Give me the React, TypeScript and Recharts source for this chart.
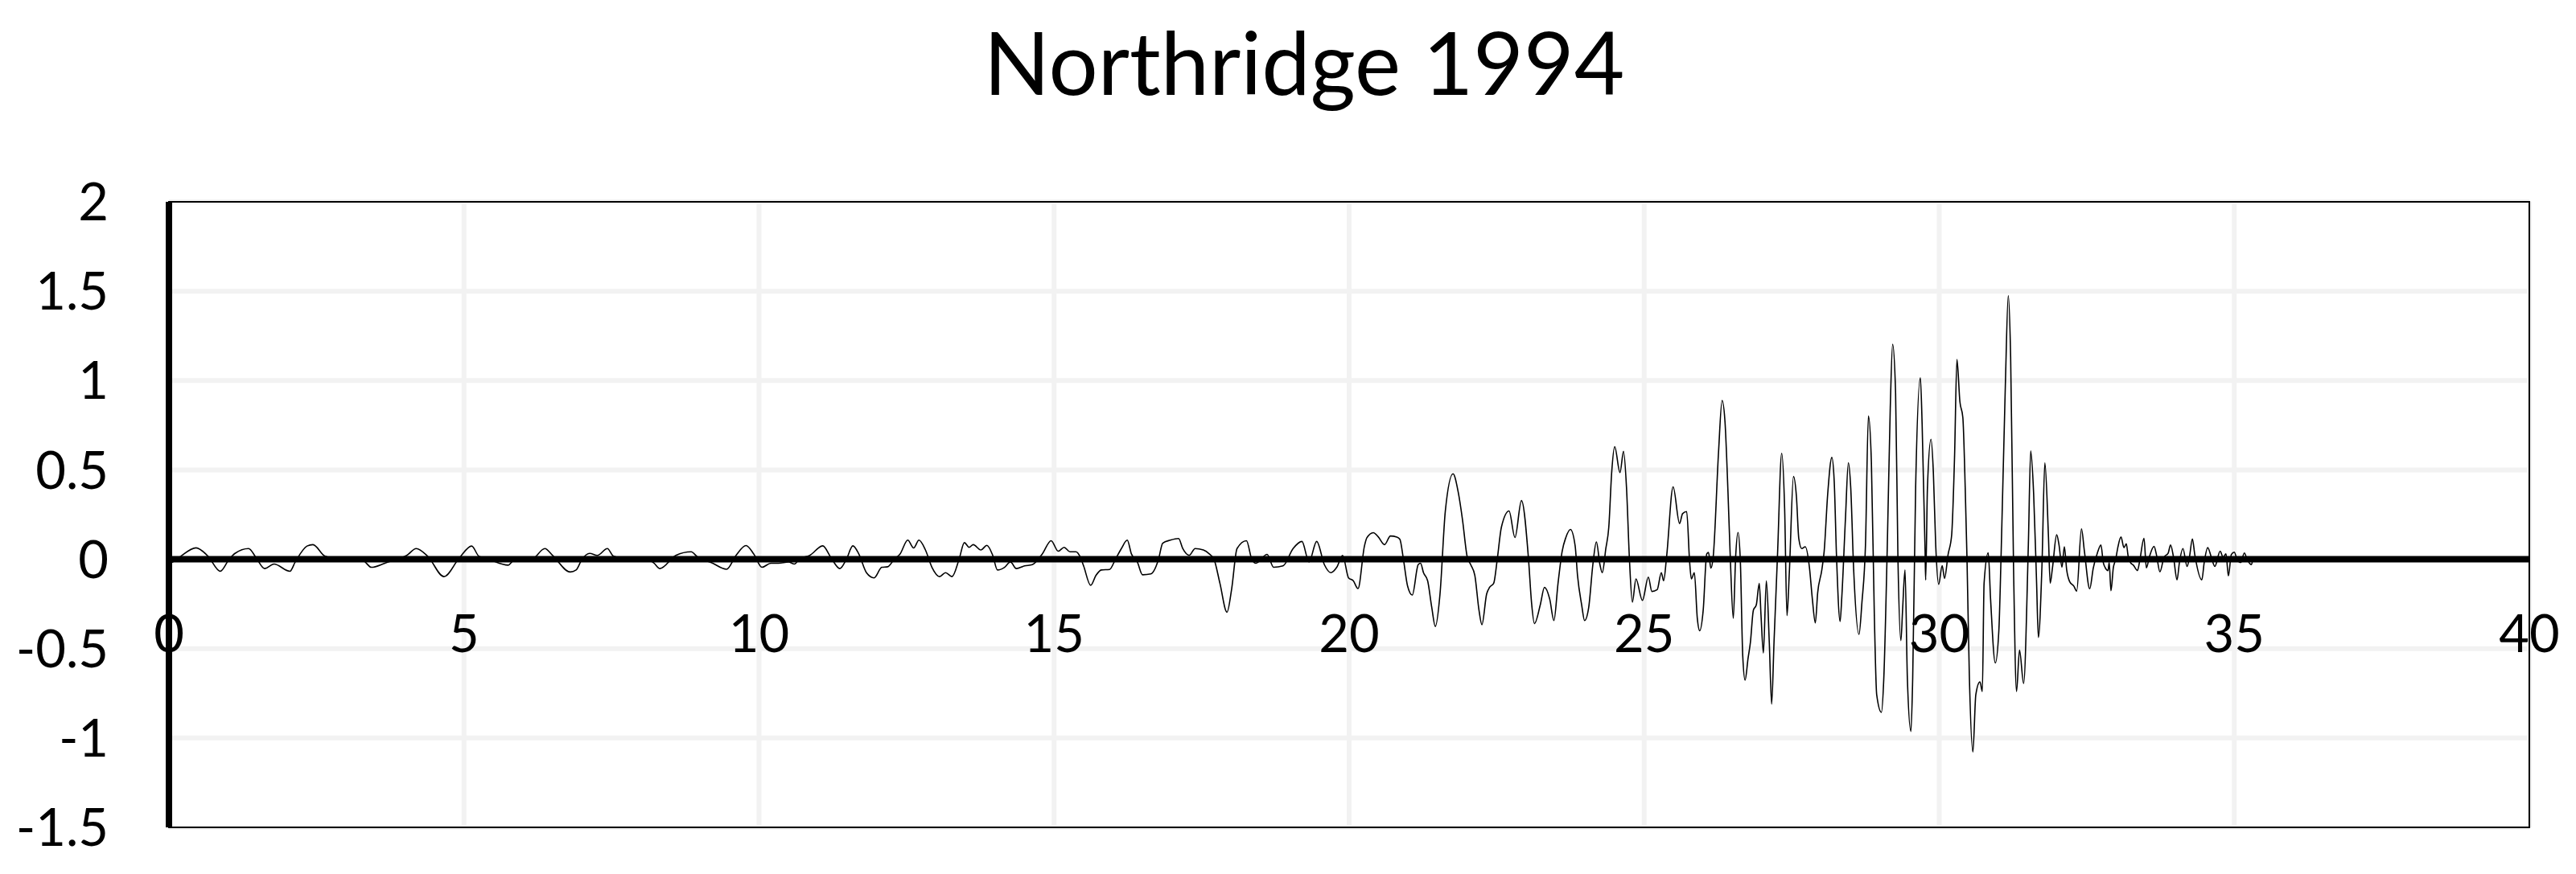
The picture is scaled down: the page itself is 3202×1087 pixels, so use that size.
import React from 'react';
import { LineChart, Line, XAxis, YAxis, CartesianGrid, ReferenceLine, ReferenceArea } from 'recharts';

const TITLE = 'Northridge 1994';
const X_TICKS = [0, 5, 10, 15, 20, 25, 30, 35, 40];
const Y_TICKS = [-1.5, -1, -0.5, 0, 0.5, 1, 1.5, 2];

// [time (s), acceleration]
const SEG_0_10: [number, number][] = [
  [0.0, 0], [0.03, -0.02], [0.15, 0.005], [0.46, 0.064], [0.66, 0.018], [0.87, -0.067], [1.02, 0],
  [1.12, 0.033], [1.35, 0.06], [1.48, 0.007], [1.62, -0.052], [1.78, -0.027], [2.05, -0.067],
  [2.14, -0.015], [2.34, 0.074], [2.44, 0.082], [2.64, 0.018], [2.8, 0.005], [3.1, 0.0], [3.3, -0.01],
  [3.43, -0.045], [3.66, -0.022], [3.85, 0.0], [4.03, 0.022], [4.19, 0.06], [4.39, 0.015],
  [4.66, -0.097], [4.92, 0.007], [5.13, 0.074], [5.25, 0.018], [5.42, 0.0], [5.75, -0.033],
  [5.84, -0.007], [6.15, 0.0], [6.37, 0.06], [6.5, 0.022], [6.8, -0.071], [6.9, -0.06], [7.0, 0.0],
  [7.13, 0.033], [7.26, 0.022], [7.43, 0.06], [7.53, 0.018], [7.8, 0.0], [8.1, 0.0], [8.22, -0.022],
  [8.32, -0.052], [8.59, 0.022], [8.85, 0.042], [8.95, 0.015], [9.2, -0.02], [9.45, -0.056],
  [9.61, 0.022], [9.78, 0.077], [9.91, 0.03],
];

const SEG_10_20: [number, number][] = [
  [10.05, -0.045], [10.2, -0.022], [10.33, -0.022], [10.5, -0.015], [10.6, -0.027], [10.68, 0],
  [10.86, 0.022], [11.08, 0.075], [11.22, 0.008], [11.37, -0.052], [11.48, 0], [11.59, 0.075],
  [11.69, 0.03], [11.82, -0.075], [11.95, -0.104], [12.08, -0.045], [12.18, -0.042], [12.29, 0],
  [12.39, 0.03], [12.52, 0.107], [12.62, 0.063], [12.71, 0.107], [12.82, 0.052], [12.93, -0.045],
  [13.06, -0.097], [13.16, -0.075], [13.27, -0.097], [13.39, 0], [13.48, 0.093], [13.56, 0.067],
  [13.63, 0.082], [13.76, 0.052], [13.86, 0.078], [13.96, 0.022], [14.04, -0.06], [14.16, -0.045],
  [14.26, -0.015], [14.36, -0.052], [14.5, -0.037], [14.63, -0.03], [14.8, 0.03], [14.95, 0.104],
  [15.07, 0.045], [15.17, 0.067], [15.27, 0.042], [15.37, 0.042], [15.44, 0.015], [15.5, -0.037],
  [15.62, -0.146], [15.71, -0.09], [15.8, -0.06], [15.94, -0.057], [16.04, 0], [16.14, 0.06],
  [16.24, 0.107], [16.31, 0.03], [16.41, -0.015], [16.5, -0.087], [16.64, -0.082], [16.77, 0],
  [16.84, 0.09], [16.97, 0.107], [17.11, 0.116], [17.18, 0.06], [17.29, 0.022], [17.39, 0.06],
  [17.53, 0.052], [17.63, 0.03], [17.71, 0], [17.81, -0.134], [17.93, -0.296], [18.01, -0.164],
  [18.1, 0.06], [18.26, 0.104], [18.35, 0], [18.42, -0.022], [18.61, 0.027], [18.72, -0.045],
  [18.88, -0.037], [19.05, 0.06], [19.2, 0.1], [19.32, -0.015], [19.45, 0.1], [19.58, -0.03],
  [19.69, -0.075], [19.79, -0.045], [19.89, 0.022], [19.99, -0.104],
];

const SEG_20_25: [number, number][] = [
  [20.07, -0.12], [20.15, -0.164], [20.26, 0.075], [20.3, 0.12], [20.41, 0.149], [20.49, 0.127],
  [20.6, 0.082], [20.7, 0.13], [20.81, 0.124], [20.86, 0.112], [20.92, 0], [20.99, -0.149],
  [21.07, -0.2], [21.17, -0.03], [21.21, -0.022], [21.26, -0.075], [21.33, -0.12], [21.4, -0.269],
  [21.46, -0.376], [21.54, -0.194], [21.63, 0.27], [21.76, 0.478], [21.85, 0.373], [21.92, 0.224],
  [22.0, 0.015], [22.06, -0.03], [22.13, -0.09], [22.2, -0.284], [22.25, -0.366], [22.33, -0.194],
  [22.38, -0.157], [22.45, -0.134], [22.51, 0], [22.58, 0.179], [22.71, 0.27], [22.81, 0.122],
  [22.92, 0.328], [23.04, 0], [23.09, -0.239], [23.14, -0.36], [23.24, -0.254], [23.31, -0.157],
  [23.4, -0.224], [23.47, -0.343], [23.54, -0.134], [23.61, 0.045], [23.67, 0.12], [23.75, 0.167],
  [23.83, 0.075], [23.87, -0.09], [23.94, -0.254], [23.99, -0.343], [24.06, -0.269], [24.13, -0.03],
  [24.19, 0.097], [24.25, -0.03], [24.29, -0.075], [24.35, 0.06], [24.4, 0.179], [24.45, 0.49],
  [24.5, 0.63], [24.59, 0.485], [24.65, 0.604], [24.7, 0.403], [24.75, 0], [24.8, -0.24],
  [24.86, -0.11], [24.97, -0.23],
];

const SEG_25_30: [number, number][] = [
  [25.07, -0.1], [25.13, -0.18], [25.22, -0.17], [25.29, -0.075], [25.33, -0.12], [25.38, 0.015],
  [25.49, 0.405], [25.6, 0.2], [25.65, 0.255], [25.72, 0.267], [25.77, -0.015], [25.8, -0.11],
  [25.85, -0.075], [25.9, -0.33], [25.94, -0.4], [26.0, -0.285], [26.06, 0.03], [26.09, 0.038],
  [26.13, -0.05], [26.17, 0.015], [26.26, 0.6], [26.32, 0.889], [26.37, 0.766], [26.42, 0.375],
  [26.46, 0], [26.51, -0.33], [26.55, 0.015], [26.59, 0.15], [26.63, -0.015], [26.67, -0.54],
  [26.71, -0.676], [26.76, -0.555], [26.8, -0.465], [26.85, -0.285], [26.9, -0.255], [26.95, -0.135],
  [26.98, -0.315], [27.02, -0.525], [27.07, -0.12], [27.12, -0.465], [27.16, -0.81], [27.2, -0.465],
  [27.26, 0.03], [27.33, 0.593], [27.38, 0.285], [27.42, -0.315], [27.46, -0.07], [27.53, 0.463],
  [27.58, 0.35], [27.62, 0.116], [27.67, 0.06], [27.73, 0.07], [27.8, -0.045], [27.85, -0.223],
  [27.9, -0.356], [27.94, -0.187], [28.01, -0.06], [28.05, 0.045], [28.11, 0.366], [28.18, 0.57],
  [28.22, 0.437], [28.26, 0.009], [28.32, -0.348], [28.35, -0.205], [28.41, 0.223], [28.46, 0.54],
  [28.5, 0.401], [28.55, -0.06], [28.64, -0.42], [28.69, -0.241], [28.75, 0.08], [28.8, 0.802],
  [28.85, 0.544], [28.9, -0.312], [28.94, -0.757], [29.02, -0.856], [29.06, -0.67], [29.12, 0.08],
  [29.17, 0.847], [29.21, 1.203], [29.26, 0.936], [29.3, 0.009], [29.35, -0.455], [29.38, -0.276],
  [29.42, -0.06], [29.46, -0.668], [29.52, -0.963], [29.55, -0.668], [29.6, 0.401], [29.68, 1.016],
  [29.71, 0.757], [29.76, 0.045], [29.77, -0.116], [29.8, 0.401], [29.86, 0.672], [29.9, 0.49],
  [29.94, 0.08], [29.99, -0.14],
];

const SEG_30_36: [number, number][] = [
  [30.05, -0.036], [30.09, -0.107], [30.15, 0.027], [30.21, 0.134], [30.26, 0.58], [30.3, 1.118],
  [30.35, 0.882], [30.4, 0.793], [30.44, 0.401], [30.47, 0.009], [30.51, -0.65], [30.57, -1.078],
  [30.62, -0.757], [30.69, -0.686], [30.73, -0.74], [30.76, -0.134], [30.83, 0.036], [30.87, -0.223],
  [30.95, -0.58], [31.01, -0.4], [31.05, 0.045], [31.12, 0.97], [31.17, 1.474], [31.21, 1.13],
  [31.26, -0.062], [31.31, -0.74], [31.36, -0.508], [31.43, -0.695], [31.51, 0.08], [31.55, 0.606],
  [31.6, 0.365], [31.65, -0.134], [31.68, -0.437], [31.74, -0.045], [31.79, 0.54], [31.85, 0.134],
  [31.88, -0.134], [31.92, -0.045], [31.99, 0.137], [32.03, 0.08], [32.08, -0.045], [32.12, 0.07],
  [32.16, -0.06], [32.21, -0.125], [32.28, -0.15], [32.33, -0.178], [32.41, 0.17], [32.46, 0.045],
  [32.55, -0.165], [32.61, -0.05], [32.68, 0.035], [32.74, 0.08], [32.78, -0.018], [32.81, -0.045],
  [32.86, -0.063], [32.88, -0.018], [32.91, -0.176], [32.95, -0.048], [32.99, 0.0], [33.03, 0.072],
  [33.08, 0.125], [33.13, 0.065], [33.17, 0.087], [33.2, 0.02], [33.24, -0.018], [33.29, -0.033],
  [33.36, -0.063], [33.4, -0.003], [33.47, 0.117], [33.51, -0.048], [33.56, 0.012], [33.64, 0.072],
  [33.68, 0.027], [33.74, -0.07], [33.81, 0.012], [33.88, 0.035], [33.92, 0.08], [33.97, 0.012],
  [34.03, -0.115], [34.07, -0.018], [34.13, 0.06], [34.2, -0.04], [34.24, 0.012], [34.29, 0.114],
  [34.33, 0.027], [34.45, -0.115], [34.49, -0.018], [34.55, 0.065], [34.61, 0.012], [34.67, -0.04],
  [34.76, 0.045], [34.81, 0.012], [34.86, 0.03], [34.9, -0.093], [34.95, 0.027], [35.0, 0.04],
  [35.05, -0.003], [35.11, -0.018], [35.17, 0.035], [35.22, -0.003], [35.29, -0.03], [35.31, -0.006],
];

const data = [...SEG_0_10, ...SEG_10_20, ...SEG_20_25, ...SEG_25_30, ...SEG_30_36].map(([t, a]) => ({ t, a }));

const FONT = 'Lato, "Open Sans", sans-serif';
const W = 3202;
const H = 1087;

const XTick = (props: any) => {
  const { x, y, payload } = props;
  return (
    <text x={x} y={y - 218} textAnchor="middle" fontFamily={FONT} fontSize={65} fill="#000">
      {payload.value}
    </text>
  );
};

export default function App() {
  return (
    <div style={{ position: 'absolute', left: 0, top: 0, width: W, height: H, background: '#fff' }}>
      <svg width={W} height={200} style={{ position: 'absolute', left: 0, top: 0 }}>
        <text x={1621} y={118} textAnchor="middle" fontFamily={FONT} fontSize={108} fill="#000">
          {TITLE}
        </text>
      </svg>
      <div style={{ position: 'absolute', left: 0, top: 0 }}>
        <LineChart width={W} height={H} data={data} margin={{ top: 251, right: 58, bottom: 28, left: 10 }}>
          <CartesianGrid stroke="#f2f2f2" strokeWidth={6} />
          <ReferenceArea x1={0} x2={40} y1={-1.5} y2={2} fill="none" stroke="#000" strokeWidth={2} ifOverflow="visible" />
          <XAxis
            type="number"
            dataKey="t"
            domain={[0, 40]}
            ticks={X_TICKS}
            interval={0}
            axisLine={false}
            tickLine={false}
            tickSize={0}
            tickMargin={0}
            height={30}
            tick={XTick}
          />
          <YAxis
            type="number"
            domain={[-1.5, 2]}
            ticks={Y_TICKS}
            interval={0}
            width={200}
            axisLine={{ stroke: '#000', strokeWidth: 8 }}
            tickLine={false}
            tickSize={0}
            tickMargin={75}
            tick={{ fill: '#000', fontSize: 65, fontFamily: FONT }}
          />
          <Line type="monotone" dataKey="a" stroke="#000" strokeWidth={1.6} dot={false} isAnimationActive={false} />
          <ReferenceLine y={0} stroke="#000" strokeWidth={8} />
        </LineChart>
      </div>
    </div>
  );
}
